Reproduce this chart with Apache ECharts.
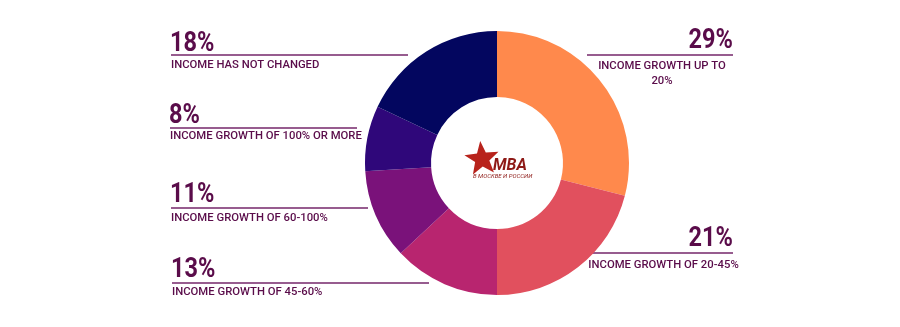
<!DOCTYPE html>
<html>
<head>
<meta charset="utf-8">
<script src="https://cdn.jsdelivr.net/npm/echarts@6/dist/echarts.min.js"></script>
<style>
html,body{margin:0;padding:0;background:#fff;}
#chart{width:900px;height:327px;}
</style>
</head>
<body>
<div id="chart"></div>
<script>
// Data
const categories = [
  'INCOME GROWTH UP TO\n20%',
  'INCOME GROWTH OF 20-45%',
  'INCOME GROWTH OF 45-60%',
  'INCOME GROWTH OF 60-100%',
  'INCOME GROWTH OF 100% OR MORE',
  'INCOME HAS NOT CHANGED'
];
const values = [29, 21, 13, 11, 8, 18];
const colors = ['#FF894C', '#E1505E', '#B8256F', '#7A127A', '#2F077A', '#03065F'];

// Label layout (positions only)
const labelLayout = [
  {side: 'right', pctY: 41, lineY: 55, descY: 66, x0: 587, x1: 733},
  {side: 'right', pctY: 239, lineY: 253, descY: 265, x0: 590, x1: 733},
  {side: 'left', pctY: 270, lineY: 283, descY: 292.5, x0: 172, x1: 429},
  {side: 'left', pctY: 194.5, lineY: 208, descY: 218, x0: 171, x1: 368},
  {side: 'left', pctY: 115.5, lineY: 128, descY: 136.5, x0: 170, x1: 357},
  {side: 'left', pctY: 44, lineY: 55, descY: 65.5, x0: 171, x1: 408}
];

const textColor = '#5A0C4A';
const lineColor = '#74266A';
const pctFont = 'bold 28px Roboto';
const descFont = '500 11.3px Roboto';
const graphics = [];
values.forEach((v, i) => {
  const L = labelLayout[i];
  graphics.push({
    type: 'line',
    shape: {x1: L.x0, y1: L.lineY, x2: L.x1, y2: L.lineY},
    style: {stroke: lineColor, lineWidth: 1.5}
  });
  if (L.side === 'left') {
    graphics.push({
      type: 'text', x: L.x0 - 1, y: L.pctY, scaleX: 0.84,
      style: {text: v + '%', font: pctFont, fill: textColor, align: 'left', verticalAlign: 'middle'}
    });
    graphics.push({
      type: 'text', x: L.x0, y: L.descY,
      style: {text: categories[i], font: descFont, fill: textColor, align: 'left', verticalAlign: 'middle'}
    });
  } else {
    graphics.push({
      type: 'text', x: L.x1, y: L.pctY, scaleX: 0.84,
      style: {text: v + '%', font: pctFont, fill: textColor, align: 'right', verticalAlign: 'middle'}
    });
    graphics.push({
      type: 'text', x: (L.x0 + L.x1) / 2 + 2, y: L.descY - 7.5,
      style: {text: categories[i], font: descFont, fill: textColor, align: 'center', verticalAlign: 'top', lineHeight: 15}
    });
  }
});

// Center logo: star + text
function starPoints(cx, cy, r, r0, rot) {
  const pts = [];
  for (let k = 0; k < 10; k++) {
    const rr = k % 2 === 0 ? r : r0;
    const a = rot + k * Math.PI / 5 - Math.PI / 2;
    pts.push([cx + rr * Math.cos(a), cy + rr * Math.sin(a)]);
  }
  return pts;
}
graphics.push({
  type: 'polygon',
  shape: {points: starPoints(482, 159, 18, 7.5, -0.1)},
  style: {fill: '#B8231C'}
});
graphics.push({
  type: 'text', x: 493, y: 166,
  style: {text: 'MBA', font: 'italic bold 16px Roboto', fill: '#8E1A17', align: 'left', verticalAlign: 'middle'}
});
graphics.push({
  type: 'text', x: 473, y: 176,
  style: {text: 'В МОСКВЕ И РОССИИ', font: 'italic 6px Roboto', fill: '#8E1A17', align: 'left', verticalAlign: 'middle'}
});

const chart = echarts.init(document.getElementById('chart'), null, {renderer: 'canvas'});
chart.setOption({
  animation: false,
  backgroundColor: '#fff',
  series: [{
    type: 'pie',
    center: [497, 163],
    radius: [66, 132],
    startAngle: 90,
    clockwise: true,
    label: {show: false},
    labelLine: {show: false},
    emphasis: {disabled: true},
    data: values.map((v, i) => ({name: categories[i], value: v, itemStyle: {color: colors[i]}}))
  }],
  graphic: graphics
});
</script>
</body>
</html>
